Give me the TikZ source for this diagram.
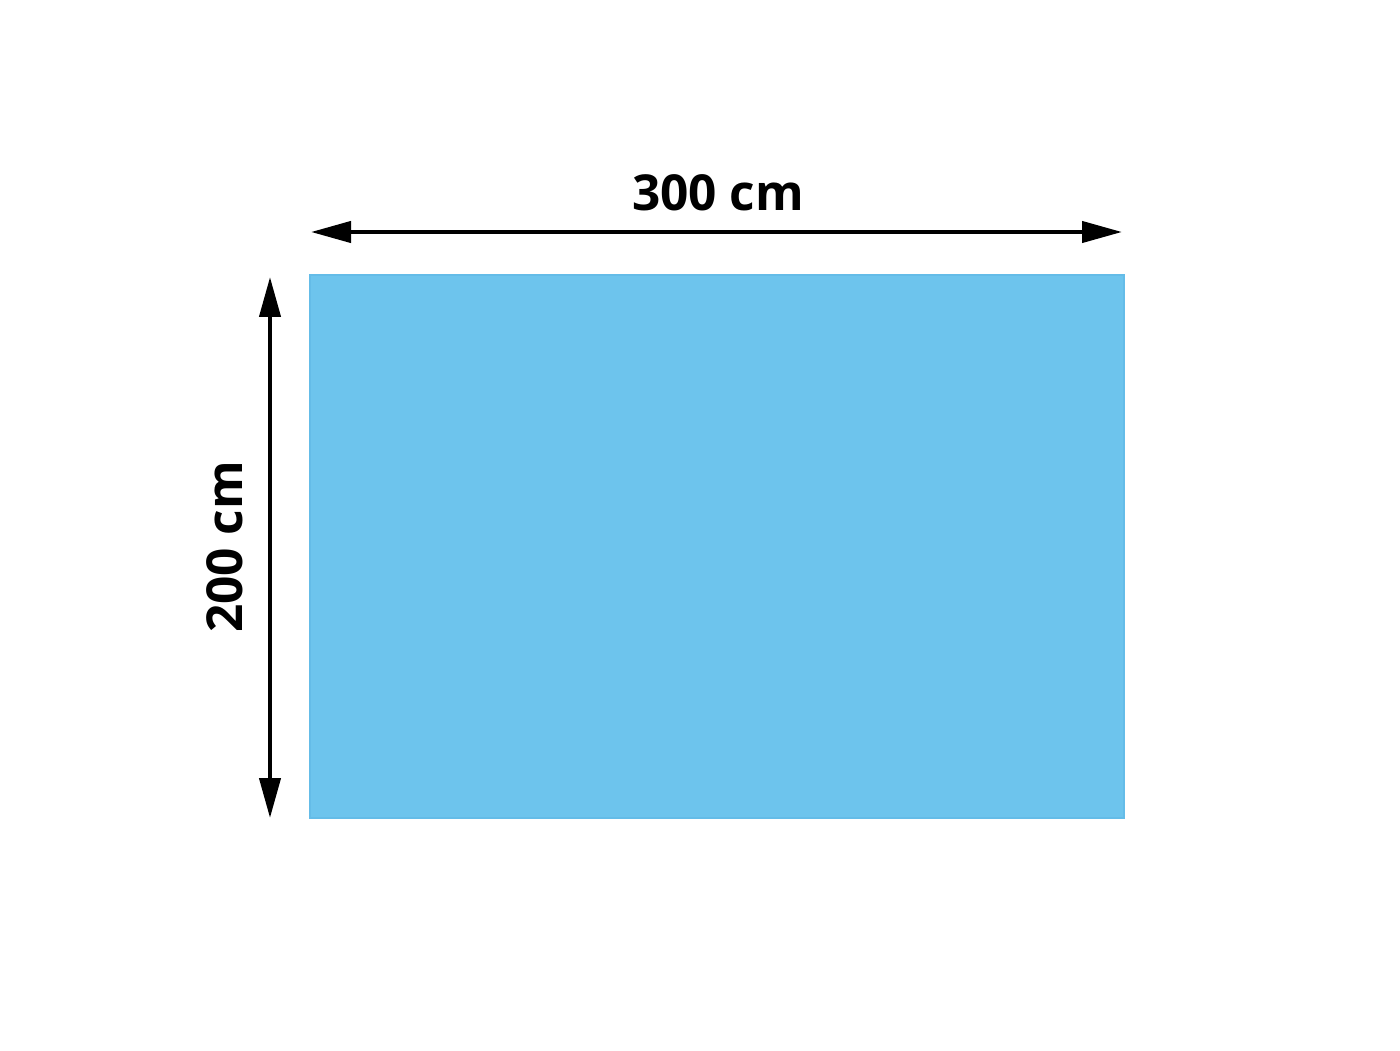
\documentclass[tikz,border=0pt]{standalone}
\usepackage{fontspec}
\setmainfont{Open Sans}
\usetikzlibrary{arrows.meta}
\definecolor{poolblue}{RGB}{109, 196, 237}
\definecolor{edgeblue}{RGB}{100, 188, 232}
\tikzset{
  dimline/.style={line width=1.2pt, {Triangle[length=4mm,width=2.1mm]}-{Triangle[length=4mm,width=2.1mm]}},
  dimlabel/.style={font=\bfseries\fontsize{14.1}{16}\selectfont, inner sep=0pt}
}

\begin{document}
\begin{tikzpicture}
        \useasboundingbox (0,0) rectangle (14,10.5);
        \draw[fill=poolblue,draw=edgeblue,line width=0.3pt] (3.10,2.32) rectangle (11.24,7.75);

        \coordinate (wleft) at (3.11,8.18);
        \coordinate (wright) at (11.22,8.18);
        \coordinate (htop) at (2.70,7.73);
        \coordinate (hbottom) at (2.70,2.32);

        \draw[dimline] (wleft) -- (wright);
        \draw[dimline] (htop) -- (hbottom);

        \node[dimlabel] (width) at (7.18,8.57) {300 cm};
        \node[dimlabel,rotate=90] (height) at (2.25,5.03) {200 cm};
    \end{tikzpicture}
\end{document}
